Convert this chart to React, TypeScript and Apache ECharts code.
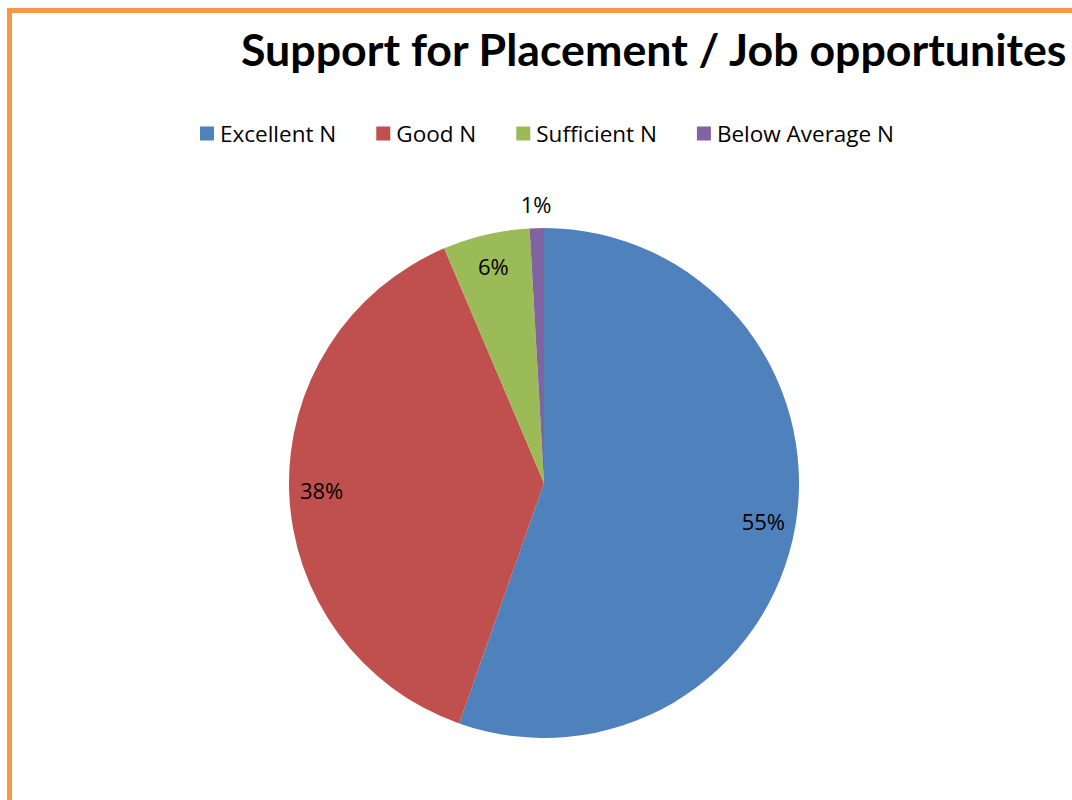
import React, { useEffect, useRef } from "react";
import * as echarts from "echarts";

const titleText = "Support for Placement / Job opportunites";
const categories = ["Excellent N", "Good N", "Sufficient N", "Below Average N"];
const values = [55.4, 38.2, 5.5, 0.9];
const colors = ["#4F81BD", "#C0504D", "#9BBB59", "#8064A2"];
const outsideLabelIndex = 3;

const TITLE_FONT = "Lato, 'Open Sans', sans-serif";
const FONT = "'Open Sans', Lato, sans-serif";

export default function App() {
  const ref = useRef<HTMLDivElement>(null);
  useEffect(() => {
    if (!ref.current) return;
    const chart = echarts.init(ref.current, null, { renderer: "svg" });
    const fmt = (p: any) => Math.round(p.percent) + "%";
    const center = [544, 483];
    const labelStyle = { fontFamily: FONT, fontSize: 22, color: "#000" };
    chart.setOption({
      animation: false,
      backgroundColor: "#ffffff",
      title: {
        text: titleText,
        left: 236,
        top: 21,
        textStyle: { fontFamily: TITLE_FONT, fontWeight: "bold", fontSize: 44.7, color: "#000" },
      },
      legend: {
        data: categories,
        left: 195,
        top: 117,
        icon: "rect",
        itemWidth: 14,
        itemHeight: 14,
        itemGap: 40,
        textStyle: { fontFamily: FONT, fontSize: 22.5, color: "#000", padding: [0, 0, 0, 1] },
      },
      graphic: [
        {
          type: "rect",
          shape: { x: 9.5, y: 10.5, width: 2000, height: 2000 },
          style: { fill: "none", stroke: "#F79646", lineWidth: 5 },
          silent: true,
        },
      ],
      series: [
        {
          type: "pie",
          center,
          radius: 255,
          startAngle: 90,
          clockwise: true,
          label: { show: false },
          labelLine: { show: false },
          emphasis: { disabled: true },
          data: categories.map((c, i) => ({ name: c, value: values[i], itemStyle: { color: colors[i] } })),
        },
        {
          type: "pie",
          center,
          radius: [184, 255],
          startAngle: 90,
          clockwise: true,
          silent: true,
          itemStyle: { color: "rgba(0,0,0,0)" },
          labelLine: { show: false },
          emphasis: { disabled: true },
          data: categories.map((c, i) => ({
            name: c,
            value: values[i],
            label: { show: i !== outsideLabelIndex, position: "inside", formatter: fmt, ...labelStyle },
          })),
        },
        {
          type: "pie",
          center,
          radius: [255, 297],
          startAngle: 90,
          clockwise: true,
          silent: true,
          itemStyle: { color: "rgba(0,0,0,0)" },
          labelLine: { show: false },
          emphasis: { disabled: true },
          data: categories.map((c, i) => ({
            name: c,
            value: values[i],
            label: { show: i === outsideLabelIndex, position: "inside", formatter: fmt, ...labelStyle },
          })),
        },
      ],
    });
    return () => chart.dispose();
  }, []);
  return (
    <div
      ref={ref}
      style={{ position: "absolute", left: 0, top: 0, width: 1072, height: 800 }}
    />
  );
}
